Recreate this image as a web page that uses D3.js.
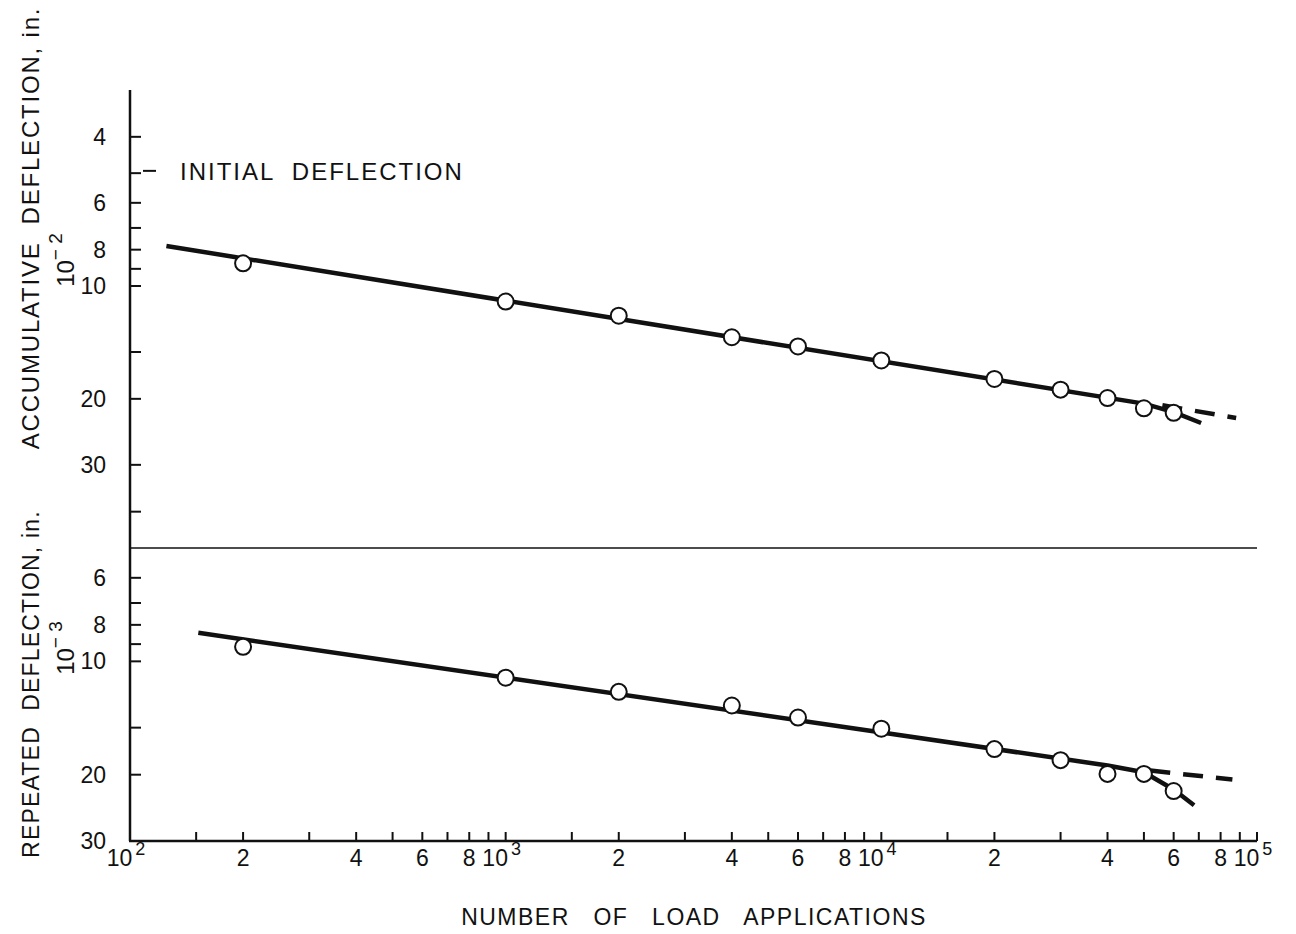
<!DOCTYPE html>
<html>
<head>
<meta charset="utf-8">
<script src="https://cdn.jsdelivr.net/npm/d3@7"></script>
<style>
  body { margin: 0; background: #fff; }
  text { font-family: "Liberation Sans", Arial, sans-serif; fill: #111; }
</style>
</head>
<body>
<svg id="chart"></svg>
<script>
// Data
var loads = [200, 1000, 2000, 4000, 6000, 10000, 20000, 30000, 40000, 50000, 60000];
var accumDefl = [8.7, 11.0, 12.0, 13.7, 14.5, 15.8, 17.7, 18.9, 19.9, 21.2, 21.8];
var repeatDefl = [9.15, 11.05, 12.05, 13.1, 14.1, 15.1, 17.1, 18.3, 19.9, 19.9, 22.1];

// fitted lines [load, deflection]
var accumFit = [[125, 7.82], [50000, 20.6], [60000, 21.7], [71000, 23.2]];
var accumFitExt = [[56000, 20.8], [88000, 22.5]];
var repeatFit = [[152, 8.4], [40000, 18.9], [50000, 19.7], [60000, 21.9], [68000, 24.1]];
var repeatFitExt = [[52000, 19.5], [86000, 20.6]];

var initialDeflection = 4.93;

var xTicks = [100, 150, 200, 300, 400, 500, 600, 700, 800, 900,
              1000, 1500, 2000, 3000, 4000, 5000, 6000, 7000, 8000, 9000,
              10000, 15000, 20000, 30000, 40000, 50000, 60000, 70000, 80000, 90000, 100000];
var xLabels = [[100, "10", "2"], [200, "2"], [400, "4"], [600, "6"], [800, "8"], [1000, "10", "3"],
               [2000, "2"], [4000, "4"], [6000, "6"], [8000, "8"], [10000, "10", "4"],
               [20000, "2"], [40000, "4"], [60000, "6"], [80000, "8"], [100000, "10", "5"]];
var topTicks = [4, 5, 6, 7, 8, 9, 10, 15, 20, 30, 40];
var topLabels = [4, 6, 8, 10, 20, 30];
var botTicks = [6, 7, 8, 9, 10, 15, 20];
var botLabels = [6, 8, 10, 20, 30];

var width = 1296;
var height = 934;

var svg = d3.select('#chart')
    .attr('width', width)
    .attr('height', height);

var x = d3.scaleLog().domain([1e2, 1e5]).range([130, 1257]);
var yTop = d3.scaleLog().domain([3, 50]).range([90, 548]);
var yBot = d3.scaleLog().domain([5, 30]).range([548, 841]);

// axes lines
svg.append('line').attr('x1', 130).attr('x2', 130).attr('y1', yTop(3)).attr('y2', yBot(30))
    .attr('stroke', '#111').attr('stroke-width', 2.5);
svg.append('line').attr('x1', 129).attr('x2', x(1e5)).attr('y1', yBot(30)).attr('y2', yBot(30))
    .attr('stroke', '#111').attr('stroke-width', 2.5);
// divider between the two panels
svg.append('line').attr('x1', 130).attr('x2', x(1e5)).attr('y1', yTop(50)).attr('y2', yTop(50))
    .attr('stroke', '#111').attr('stroke-width', 1.5);

// x ticks (pointing up)
svg.selectAll('line.xtick').data(xTicks).enter().append('line')
    .attr('class', 'xtick')
    .attr('x1', function (d) { return x(d); }).attr('x2', function (d) { return x(d); })
    .attr('y1', yBot(30)).attr('y2', yBot(30) - 9)
    .attr('stroke', '#111').attr('stroke-width', 2);

var xl = svg.selectAll('text.xlab').data(xLabels).enter().append('text')
    .attr('class', 'xlab')
    .attr('x', function (d) { return x(d[0]) + (d[2] ? -4 : 0); })
    .attr('y', 866)
    .attr('text-anchor', 'middle')
    .style('font-size', '23px');
xl.append('tspan').text(function (d) { return d[1]; });
xl.append('tspan').attr('dy', -11).style('font-size', '18px').attr('dx', 3)
    .text(function (d) { return d[2] || ''; });

// y ticks (pointing right)
function yAxis(scale, ticks, labels) {
    svg.append('g').selectAll('line').data(ticks).enter().append('line')
        .attr('x1', 130).attr('x2', 141)
        .attr('y1', function (d) { return scale(d); }).attr('y2', function (d) { return scale(d); })
        .attr('stroke', '#111').attr('stroke-width', 2);
    svg.append('g').selectAll('text').data(labels).enter().append('text')
        .attr('x', 106)
        .attr('y', function (d) { return scale(d) + 8; })
        .attr('text-anchor', 'end')
        .style('font-size', '23px')
        .text(function (d) { return d; });
}
yAxis(yTop, topTicks, topLabels);
yAxis(yBot, botTicks, botLabels);

// initial deflection marker
svg.append('line').attr('x1', 143).attr('x2', 156)
    .attr('y1', yTop(initialDeflection)).attr('y2', yTop(initialDeflection))
    .attr('stroke', '#111').attr('stroke-width', 2);
svg.append('text').attr('x', 180).attr('y', yTop(initialDeflection) + 9)
    .style('font-size', '24px').attr('letter-spacing', 2)
    .attr('xml:space', 'preserve')
    .text('INITIAL  DEFLECTION');

// fitted lines
function fitLine(pts, scale, dashed) {
    var line = d3.line()
        .x(function (d) { return x(d[0]); })
        .y(function (d) { return scale(d[1]); });
    svg.append('path').datum(pts)
        .attr('d', line)
        .attr('fill', 'none')
        .attr('stroke', '#111')
        .attr('stroke-width', 4.5)
        .attr('stroke-linejoin', 'round')
        .attr('stroke-dasharray', dashed ? '20,13' : null);
}
fitLine(accumFit, yTop, false);
fitLine(accumFitExt, yTop, true);
fitLine(repeatFit, yBot, false);
fitLine(repeatFitExt, yBot, true);

// observations
function points(vals, scale) {
    svg.append('g').selectAll('circle').data(loads).enter().append('circle')
        .attr('cx', function (d) { return x(d); })
        .attr('cy', function (d, i) { return scale(vals[i]); })
        .attr('r', 8)
        .attr('fill', '#fff')
        .attr('stroke', '#111')
        .attr('stroke-width', 2);
}
points(accumDefl, yTop);
points(repeatDefl, yBot);

// axis titles
svg.append('text')
    .attr('transform', 'translate(39,228)rotate(-90)')
    .attr('text-anchor', 'middle')
    .attr('xml:space', 'preserve')
    .style('font-size', '24px').attr('letter-spacing', 1.8)
    .text('ACCUMULATIVE  DEFLECTION, in.');
var t1 = svg.append('text')
    .attr('transform', 'translate(74,260)rotate(-90)')
    .attr('text-anchor', 'middle')
    .style('font-size', '24px');
t1.append('tspan').text('10');
t1.append('tspan').attr('dy', -12).style('font-size', '19px').text('\u2212 2');

svg.append('text')
    .attr('transform', 'translate(39,684)rotate(-90)')
    .attr('text-anchor', 'middle')
    .attr('xml:space', 'preserve')
    .style('font-size', '23px').attr('letter-spacing', 1.2)
    .text('REPEATED  DEFLECTION, in.');
var t2 = svg.append('text')
    .attr('transform', 'translate(74,648)rotate(-90)')
    .attr('text-anchor', 'middle')
    .style('font-size', '24px');
t2.append('tspan').text('10');
t2.append('tspan').attr('dy', -12).style('font-size', '19px').text('\u2212 3');

svg.append('text')
    .attr('x', 694).attr('y', 925)
    .attr('text-anchor', 'middle')
    .attr('xml:space', 'preserve')
    .style('font-size', '23px').attr('letter-spacing', 1.5)
    .text('NUMBER   OF   LOAD   APPLICATIONS');
</script>
</body>
</html>
